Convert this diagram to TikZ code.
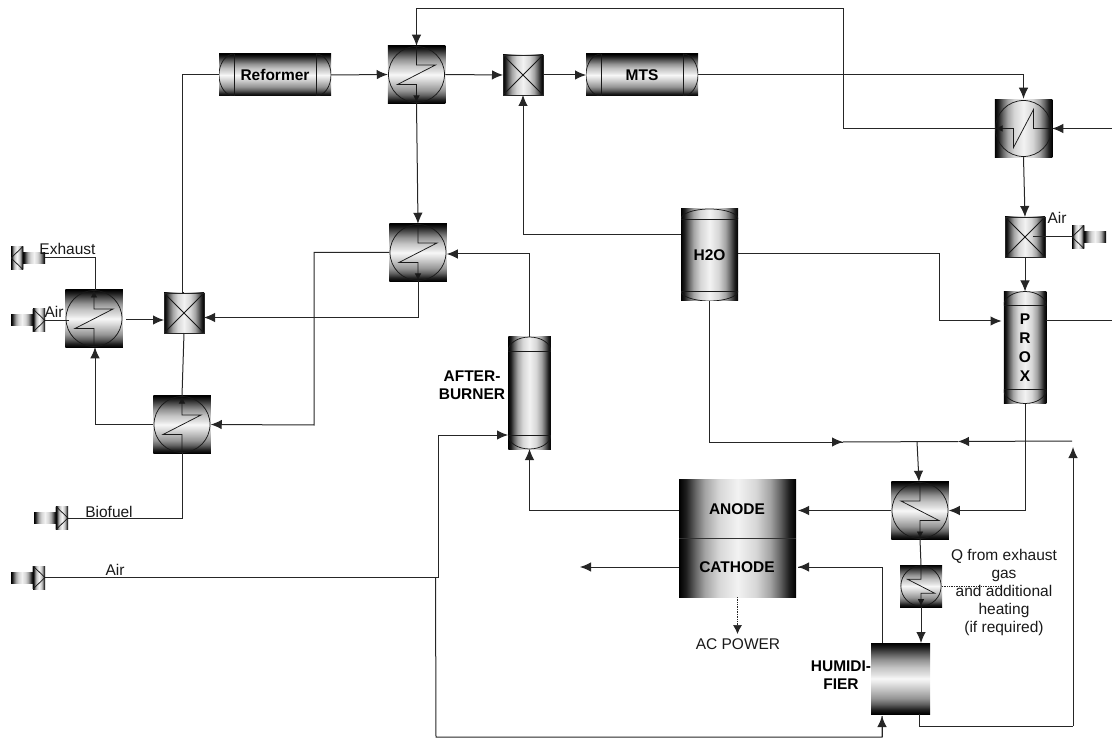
\documentclass[tikz,border=0pt]{standalone}
\usepackage{fontspec}
\setmainfont{Liberation Sans}
\usetikzlibrary{arrows.meta,calc}
\pgfdeclareverticalshading{vband}{100bp}{color(0bp)=(black); color(25bp)=(black); color(28bp)=(black!88); color(32bp)=(black!62); color(36bp)=(black!42); color(42bp)=(black!24); color(47bp)=(black!10); color(50bp)=(black!3); color(53bp)=(black!12); color(58bp)=(black!24); color(63bp)=(black!42); color(67bp)=(black!62); color(72bp)=(black!88); color(75bp)=(black); color(100bp)=(black)}
\pgfdeclarehorizontalshading{hband}{100bp}{color(0bp)=(black); color(25bp)=(black); color(28bp)=(black!88); color(32bp)=(black!60); color(36bp)=(black!36); color(42bp)=(black!16); color(50bp)=(black!5); color(58bp)=(black!16); color(64bp)=(black!36); color(68bp)=(black!60); color(72bp)=(black!88); color(75bp)=(black); color(100bp)=(black)}
\def\pbb{path picture bounding box}
% #1 horizontal factor (sign gives the hand of the zigzag), #2 size factor, #3 arrow style
\newcommand\hxzig[3]{%
  \begin{scope}[shift={(\pbb.center)}]
    \draw[lin] (0,0) circle[radius=#2*28pt];
    \draw[lin,#3] (0,{#2*-28}) -- (0,{#2*-9.5}) -- ({#1*19},{#2*-9.5}) -- ({#1*-19},{#2*10}) -- (0,{#2*10}) -- (0,{#2*28});
  \end{scope}}
\newcommand\vcaps[2]{%
  \draw[lin] ([yshift=-#1 pt]\pbb.north west) -- ([yshift=-#1 pt]\pbb.north east)
    ([yshift=#1 pt]\pbb.south west) -- ([yshift=#1 pt]\pbb.south east);
  \draw[lin] ([yshift=-#1 pt]\pbb.north west) .. controls ([yshift=-0.45*#1 pt]\pbb.north west) and ([xshift=-0.275*#2 pt]\pbb.north) .. (\pbb.north)
     .. controls ([xshift=0.275*#2 pt]\pbb.north) and ([yshift=-0.45*#1 pt]\pbb.north east) .. ([yshift=-#1 pt]\pbb.north east);
  \draw[lin] ([yshift=#1 pt]\pbb.south west) .. controls ([yshift=0.45*#1 pt]\pbb.south west) and ([xshift=-0.275*#2 pt]\pbb.south) .. (\pbb.south)
     .. controls ([xshift=0.275*#2 pt]\pbb.south) and ([yshift=0.45*#1 pt]\pbb.south east) .. ([yshift=#1 pt]\pbb.south east);}
\newcommand\hcaps[2]{%
  \draw[lin] ([xshift=#1 pt]\pbb.north west) -- ([xshift=#1 pt]\pbb.south west)
    ([xshift=-#1 pt]\pbb.north east) -- ([xshift=-#1 pt]\pbb.south east);
  \draw[lin] ([xshift=#1 pt]\pbb.north west) .. controls ([xshift=0.45*#1 pt]\pbb.north west) and ([yshift=0.275*#2 pt]\pbb.west) .. (\pbb.west)
     .. controls ([yshift=-0.275*#2 pt]\pbb.west) and ([xshift=0.45*#1 pt]\pbb.south west) .. ([xshift=#1 pt]\pbb.south west);
  \draw[lin] ([xshift=-#1 pt]\pbb.north east) .. controls ([xshift=-0.45*#1 pt]\pbb.north east) and ([yshift=0.275*#2 pt]\pbb.east) .. (\pbb.east)
     .. controls ([yshift=-0.275*#2 pt]\pbb.east) and ([xshift=-0.45*#1 pt]\pbb.south east) .. ([xshift=-#1 pt]\pbb.south east);}
\newcommand\feedsym[1]{%
  \begin{scope}[shift={(\pbb.center)}]
    \shade[shading=hband] ({#1*-17},-5.5) rectangle ({#1*5},5.5);
    \shade[shading=hband] ({#1*5},-11.5) rectangle ({#1*17},11.5);
    \draw[lin] ({#1*5},-11.5) -- ({#1*5},11.5) ({#1*5},-11.5) -- ({#1*17},0) -- ({#1*5},11.5);
  \end{scope}}
\tikzset{
  lin/.style={draw=black!90,line width=0.75pt},
  zt/.style={-{Latex[length=7pt,width=6.5pt]}},
  zs/.style={{Latex[length=7pt,width=6.5pt]}-},
  flow/.style={draw=black!85,line width=1pt,-{Latex[length=11pt,width=9.5pt]}},
  pipe/.style={draw=black!85,line width=1pt},
  sig/.style={draw=black!85,line width=0.7pt,densely dotted},
  unit/.style={rectangle,inner sep=0pt,outer sep=0pt,font=\fontsize{15.5}{19}\selectfont\bfseries,align=center},
  txt/.style={inner sep=0pt,outer sep=0pt,font=\fontsize{15.5}{18}\selectfont,text=black!90,align=center},
  btxt/.style={txt,font=\fontsize{15.5}{18}\selectfont\bfseries,text=black},
  hx/.style 2 args={unit,minimum width=57.5pt,minimum height=57.5pt,shade,shading=vband,path picture={\hxzig{#1}{1}{#2}}},
  hxr/.style={unit,minimum width=57.5pt,minimum height=57.5pt,shade,shading=hband,path picture={%
    \begin{scope}[shift={(\pbb.center)}]
      \draw[lin] (0,0) circle[radius=28pt];
      \draw[lin,zs] (-28,0) -- (-10,0) -- (-10,19) -- (10,-19) -- (10,0) -- (28,0);
    \end{scope}}},
  mixer/.style={unit,minimum width=40pt,minimum height=40pt,shade,shading=hband,draw=black!85,line width=0.6pt,path picture={%
    \draw[lin] (\pbb.north west) -- (\pbb.south east) (\pbb.north east) -- (\pbb.south west);}},
  hreact/.style={unit,minimum width=112pt,minimum height=42pt,shade,shading=vband,path picture={\hcaps{15}{42}}},
  vreact/.style={unit,minimum width=42.5pt,minimum height=112pt,shade,shading=hband,path picture={\vcaps{14}{42.5}}},
  feedr/.style={rectangle,inner sep=0pt,outer sep=0pt,minimum width=34pt,minimum height=23pt,path picture={\feedsym{1}}},
  feedl/.style={rectangle,inner sep=0pt,outer sep=0pt,minimum width=34pt,minimum height=23pt,path picture={\feedsym{-1}}},
}
\begin{document}
\begin{tikzpicture}[x=1pt,y=-1pt]
\useasboundingbox (0,0) rectangle (1112,738);
% equipment
\node[hreact] (reformer) at (275,75) {Reformer};
\node[hx={1}{zt}] (hxa) at (416.5,74.5) {};
\node[hx={1}{zt}] (hxb) at (418,252.5) {};
\node[hx={1}{zs}] (hxc) at (94,318.5) {};
\node[hx={1}{zs}] (hxd) at (182,424.5) {};
\node[hxr] (hxe) at (1023.5,128.5) {};
\node[hx={-1}{zt}] (hxf) at (920,510.5) {};
\node[unit,minimum width=42pt,minimum height=42pt,shade,shading=vband,path picture={\hxzig{-0.72}{0.72}{zt}}] (hxg) at (921,586) {};
\node[mixer] (mixa) at (523,75) {};
\node[mixer] (mixb) at (184,313) {};
\node[mixer] (mixc) at (1025,237) {};
\node[hreact] (mts) at (642,75) {MTS};
\node[unit,minimum width=57pt,minimum height=92pt,shade,shading=hband,path picture={\vcaps{10}{57}}] (hto) at (709.5,255) {H2O};
\node[vreact] (prox) at (1025,347.5) {P\\R\\O\\X};
\node[vreact] (burner) at (529.5,393) {};
\node[unit,minimum width=117pt,minimum height=118pt,shade,shading=hband] (cell) at (737.5,538) {};
\node[unit,minimum width=59pt,minimum height=71pt,shade,shading=vband] (humid) at (900.5,678.5) {};
\draw[line width=0.9pt,draw=black!80] (cell.west) -- (cell.east);
% feeds
\node[feedr] (feedair) at (28,320.5) {};
\node[feedl] (feedex) at (28,258) {};
\node[feedr] (feedbio) at (51,518) {};
\node[feedr] (feedmain) at (28,577.5) {};
\node[feedl] (feedtop) at (1089,237) {};
% labels
\node[btxt] (lanode) at (737,509) {ANODE};
\node[btxt] (lcath) at (737,567) {CATHODE};
\node[btxt] (lburn) at (472,385) {AFTER-\\BURNER};
\node[btxt] (lhum) at (841,675) {HUMIDI-\\FIER};
\node[txt] (lex) at (67.5,249) {Exhaust};
\node[txt] (lair) at (54,312) {Air};
\node[txt] (lbio) at (109,512) {Biofuel};
\node[txt] (lmain) at (115,570) {Air};
\node[txt] (ltop) at (1057,218) {Air};
\node[txt] (lac) at (738,644) {AC POWER};
\node[txt] (lq) at (1004,592) {Q from exhaust\\gas\\and additional\\heating\\(if required)};
% free ends and corners
\coordinate (rin) at (1112,128.5);
\coordinate (rout) at (1112,321);
\coordinate (waste) at (580,567);
\coordinate (qend) at (1000,586);
\coordinate (ca) at (843,128.5);
\coordinate (cb) at (843,9);
\coordinate (busl) at (843,442);
\coordinate (busr) at (958,441.5);
\coordinate (bus) at (917,441.5);
\coordinate (busend) at (1072,441);
\coordinate (upend) at (1073,447);
\coordinate (cd) at (939,254);
\coordinate (ce) at (939,321);
\coordinate (proxin) at (1001.5,321);
\coordinate (hto1) at (681,235);
\coordinate (hto2) at (738,254);
\coordinate (prox1) at (1025,510.5);
\coordinate (burnin) at (508,435);
\coordinate (split) at (438.5,577.5);
\coordinate (split2) at (435.5,578);
\coordinate (bot) at (436,737);
\coordinate (hdin) at (882,716);
\coordinate (hdtop) at (882,643);
\coordinate (hdcat) at (798,567);
\coordinate (hdex) at (919,714);
\coordinate (hdex2) at (919,726);
\coordinate (hdex3) at (1073,726);
% connectors
\draw[flow] (reformer.east) -- (hxa.west);
\draw[flow] (hxa.east) -- (mixa.west);
\draw[flow] (hxa.south) -- (hxb.north);
\draw[flow] (mixa.east) -- (mts.west);
\draw[flow] (mts.east) -| ([yshift=1pt]hxe.north);
\draw[flow] (hxe.west) -- (ca) -- (cb) -| (hxa.north);
\draw[flow] (rin) -- (hxe.east);
\draw[flow] (hxe.south) -- (mixc.north);
\draw[pipe] (feedtop.west) -- ([xshift=-12pt]mixc.east);
\draw[flow] (mixc.south) -- (prox.north);
\draw[pipe] (prox.east |- rout) -- (rout);
\draw[pipe] (hto2) -- (cd) -- (ce);
\draw[flow] (ce) -- (proxin);
\draw[flow] (hto1) -| (mixa.south);
\draw[pipe] (hto.south) |- (busl);
\draw[flow] ($(hto.south |- busl)+(100,0)$) -- (busl);
\draw[pipe] (busl) -- (busr);
\draw[flow] (busend) -- (busr);
\draw[flow] (bus) -- ([xshift=-1pt]hxf.north);
\draw[pipe] (prox.south) -- (prox1);
\draw[flow] (prox1) -- (hxf.east);
\draw[flow] (hxf.west) -- ([xshift=2pt]cell.east |- hxf.west);
\draw[flow] (cell.west |- hxf.west) -| (burner.south);
\draw[flow] (burner.north) |- ([yshift=-1.5pt]hxb.east);
\draw[flow] (hxb.south) |- (mixb.east |- 0,317.5);
\draw[flow] (hxb.west) -| (314,425) -- (hxd.east);
\draw[flow] (hxd.west) -| (hxc.south -| 95,347);
\draw[pipe] (hxc.north -| 95,290) |- (feedex.east);
\draw[pipe] (feedair.east) -- (69,320.5);
\draw[flow] (126,320) -- (mixb.west |- 0,320);
\draw[pipe] (feedbio.east) -| (hxd.south);
\draw[pipe] (hxd.north) -- (mixb.south);
\draw[pipe] (mixb.north) -- (182,293) |- (reformer.west);
\draw[pipe] (feedmain.east) -- (split);
\draw[flow] (split) |- (burnin);
\draw[pipe] (split2) -- (bot) -| (hdin);
\draw[flow] (bot -| hdin) -- (hdin);
\draw[pipe] (hdtop) |- (hdcat);
\draw[flow] (hdtop |- hdcat) -- (hdcat);
\draw[flow] (cell.west |- waste) -- (waste);
\draw[sig,-{Latex[length=9pt,width=9pt]}] (cell.south) -- ([yshift=-37pt]cell.south);
\draw[pipe] (hxf.south) -- (hxg.north);
\draw[flow] (hxg.south) -- (humid.north -| hxg.south);
\draw[pipe] (hdex) -- (hdex2) -- (hdex3);
\draw[flow] (hdex3) -- (upend);
\draw[sig] (hxg.east) -- (qend);
\end{tikzpicture}
\end{document}
